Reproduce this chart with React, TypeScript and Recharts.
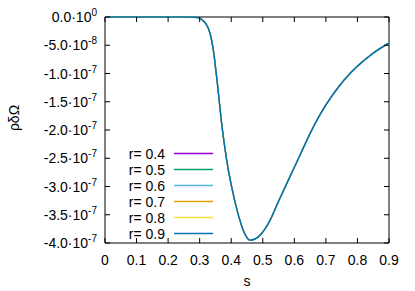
import { LineChart, Line, XAxis, YAxis, ReferenceArea, Legend } from "recharts";

// s grid and the common curve, values in units of 1e-7
const sValues = [
  0, 0.05, 0.1, 0.15, 0.2, 0.25, 0.28, 0.3, 0.31, 0.32, 0.33, 0.34, 0.345, 0.35,
  0.355, 0.36, 0.37, 0.38, 0.39, 0.4, 0.42, 0.44, 0.46, 0.475, 0.49, 0.52, 0.55,
  0.58, 0.6, 0.62, 0.65, 0.68, 0.72, 0.76, 0.8, 0.85, 0.9,
];
const curveValues = [
  0, 0, 0, 0, 0, 0, -0.005, -0.02, -0.06, -0.12, -0.24, -0.47, -0.65, -0.88,
  -1.12, -1.38, -1.9, -2.32, -2.68, -2.97, -3.45, -3.8, -3.95, -3.93, -3.87, -3.63, -3.26,
  -2.9, -2.66, -2.42, -2.06, -1.74, -1.39, -1.1, -0.87, -0.64, -0.46,
];

const radii = ["0.4", "0.5", "0.6", "0.7", "0.8", "0.9"];
const seriesColors = ["#9400d3", "#009e73", "#56b4e9", "#e69f00", "#f0e442", "#0072b2"];

const xTicks = [0, 0.1, 0.2, 0.3, 0.4, 0.5, 0.6, 0.7, 0.8, 0.9];
const xTickLabels = ["0", "0.1", "0.2", "0.3", "0.4", "0.5", "0.6", "0.7", "0.8", "0.9"];
const yTicks = [0, -0.5, -1, -1.5, -2, -2.5, -3, -3.5, -4];
const yTickMantissas = ["0.0", "-5.0", "-1.0", "-1.5", "-2.0", "-2.5", "-3.0", "-3.5", "-4.0"];
const yTickExponents = ["0", "-8", "-7", "-7", "-7", "-7", "-7", "-7", "-7"];

const data = sValues.map((s, i) => {
  const row: Record<string, number> = { s };
  radii.forEach((r) => {
    row["r" + r] = curveValues[i];
  });
  return row;
});

const FONT = "'Liberation Sans', Arial, sans-serif";
const TOP = 17;
const LEFT = 105;
const RIGHT = 389;
const BOTTOM = 243;

const XTick = (props: any) => {
  const { x, payload } = props;
  const label = xTickLabels[xTicks.indexOf(payload.value)];
  return (
    <g>
      <line x1={x} x2={x} y1={BOTTOM} y2={BOTTOM - 5} stroke="#000" />
      <line x1={x} x2={x} y1={TOP} y2={TOP + 5} stroke="#000" />
      <text x={x} y={BOTTOM + 22} textAnchor="middle" fontSize={14} fontFamily={FONT} fill="#000">
        {label}
      </text>
    </g>
  );
};

const YTick = (props: any) => {
  const { y, payload } = props;
  const i = yTicks.indexOf(payload.value);
  return (
    <g>
      <line x1={LEFT} x2={LEFT + 5} y1={y} y2={y} stroke="#000" />
      <line x1={RIGHT} x2={RIGHT - 5} y1={y} y2={y} stroke="#000" />
      <text x={LEFT - 8} y={y + 5} textAnchor="end" fontSize={14} fontFamily={FONT} fill="#000">
        {yTickMantissas[i]}·10
        <tspan dy={-6} fontSize={10}>
          {yTickExponents[i]}
        </tspan>
      </text>
    </g>
  );
};

const KeyBox = () => (
  <svg width={415} height={291} style={{ pointerEvents: "none" }}>
    {radii.map((r, i) => (
      <g key={r}>
        <text
          x={165}
          y={158.5 + 16 * i}
          textAnchor="end"
          fontSize={14}
          fontFamily={FONT}
          fill="#000"
        >
          {"r= " + r}
        </text>
        <line
          x1={174}
          x2={213}
          y1={153.5 + 16 * i}
          y2={153.5 + 16 * i}
          stroke={seriesColors[i]}
          strokeWidth={1.5}
        />
      </g>
    ))}
    <text
      transform="translate(19,118) rotate(-90)"
      textAnchor="middle"
      fontSize={14}
      fontFamily={FONT}
      fill="#000"
    >
      ρδΩ
    </text>
    <text x={247} y={286} textAnchor="middle" fontSize={14} fontFamily={FONT} fill="#000">
      s
    </text>
  </svg>
);

export default function App() {
  return (
    <div style={{ position: "absolute", left: 0, top: 0, background: "#fff" }}>
      <LineChart
        width={415}
        height={291}
        data={data}
        margin={{ top: TOP, right: 415 - RIGHT, bottom: 0, left: 0 }}
      >
        <XAxis
          dataKey="s"
          type="number"
          domain={[0, 0.9]}
          ticks={xTicks}
          height={291 - BOTTOM}
          axisLine={false}
          tickLine={false}
          tickSize={0}
          tick={<XTick />}
          interval={0}
        />
        <YAxis
          type="number"
          domain={[-4, 0]}
          ticks={yTicks}
          width={LEFT}
          axisLine={false}
          tickLine={false}
          tickSize={0}
          tick={<YTick />}
          interval={0}
        />
        <ReferenceArea x1={0} x2={0.9} y1={-4} y2={0} fill="none" stroke="#000" strokeWidth={1} />
        {radii.map((r, i) => (
          <Line
            key={r}
            type="monotone"
            dataKey={"r" + r}
            stroke={seriesColors[i]}
            strokeWidth={i === radii.length - 1 ? 1.5 : 1.1}
            dot={false}
            isAnimationActive={false}
          />
        ))}
        <Legend
          layout="horizontal"
          verticalAlign="middle"
          align="center"
          wrapperStyle={{ position: "absolute", left: 0, top: 0, width: 415, height: 291 }}
          content={() => <KeyBox />}
        />
      </LineChart>
    </div>
  );
}
